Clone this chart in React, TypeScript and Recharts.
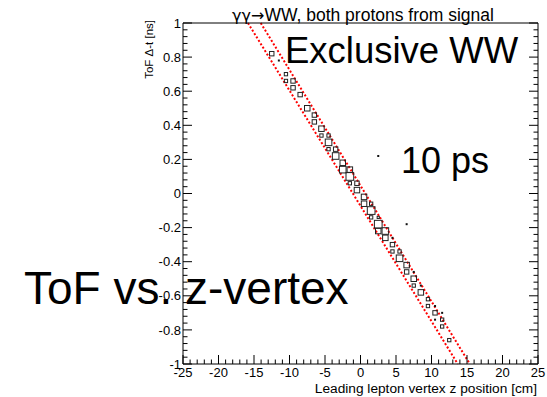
import React from 'react';
import { ScatterChart, Scatter, XAxis, YAxis, ReferenceLine } from 'recharts';

const W = 547;
const H = 397;
const FONT = '"Liberation Sans", Arial, Helvetica, sans-serif';

// Box (TH2 "BOX") cells: z position [cm], ToF delta-t [ns], cell content
const boxZ = [
  -12.5, -11.5, -10.5, -10.5, -9.5, -9.5, -8.5, -7.5, -6.5, -6.5,
  -5.5, -5.5, -4.5, -4.5, -4.5, -3.5, -3.5, -2.5, -2.5, -1.5,
  -1.5, -1.5, -0.5, -0.5, 0.5, 0.5, 1.5, 1.5, 1.5, 2.5,
  2.5, 2.5, 3.5, 3.5, 4.5, 4.5, 4.5, 5.5, 5.5, 6.5,
  6.5, 7.5, 7.5, 7.5, 8.5, 8.5, 9.5, 9.5, 10.5, 10.5,
  11.5, 10.5, 11.5, 11.5, 12.5, 2.5, 6.5,
];
const boxT = [
  0.82, 0.78, 0.70, 0.66, 0.66, 0.62, 0.58, 0.50, 0.46, 0.42,
  0.38, 0.34, 0.34, 0.30, 0.26, 0.26, 0.22, 0.18, 0.14, 0.14,
  0.10, 0.06, 0.06, 0.02, -0.02, -0.06, -0.06, -0.10, -0.14, -0.14,
  -0.18, -0.22, -0.22, -0.26, -0.26, -0.30, -0.34, -0.34, -0.38, -0.42,
  -0.46, -0.46, -0.50, -0.54, -0.54, -0.58, -0.62, -0.66, -0.66, -0.70,
  -0.70, -0.74, -0.74, -0.78, -0.86, 0.22, -0.18,
];
const boxN = [
  4, 1, 3, 3, 4, 4, 4, 5, 4, 4,
  5, 3, 3, 6, 3, 4, 6, 5, 6, 5,
  7, 3, 4, 5, 5, 5, 3, 7, 3, 2,
  7, 5, 6, 5, 1, 4, 3, 3, 6, 5,
  4, 1, 5, 3, 1, 5, 3, 3, 1, 4,
  1, 1, 3, 3, 3, 1, 1,
];

// Acceptance band (red dotted lines): [z, t] end points
const bandLowZ = [-15.85, 13.7];
const bandHighZ = [-14.05, 15.4];
const bandT = [1, -1];

const xMajorTicks = [-25, -20, -15, -10, -5, 0, 5, 10, 15, 20, 25];
const yMajorTicks = [-1, -0.8, -0.6, -0.4, -0.2, 0, 0.2, 0.4, 0.6, 0.8, 1];
const xMinorPerMajor = 5;
const yMinorPerMajor = 5;

const titleSymbols = '\u03b3\u03b3\u2192';
const titleRest = 'WW, both protons from signal';
const xTitle = 'Leading lepton vertex z position [cm]';
const yTitle = 'ToF \u0394-t [ns]';

const data = boxZ.map((z, i) => ({ x: z, y: boxT[i], w: boxN[i] }));

function subdivide(majors: number[], n: number): number[] {
  const out: number[] = [];
  for (let i = 0; i < majors.length - 1; i++) {
    const a = majors[i];
    const b = majors[i + 1];
    for (let k = 0; k < n; k++) out.push(Math.round((a + ((b - a) * k) / n) * 1e6) / 1e6);
  }
  out.push(majors[majors.length - 1]);
  return out;
}

const xTicks = subdivide(xMajorTicks, xMinorPerMajor);
const yTicks = subdivide(yMajorTicks, yMinorPerMajor);

const isMajor = (v: number, majors: number[]) => majors.some((m) => Math.abs(m - v) < 1e-6);
const MAJ = 9;
const MIN = 4.5;

const fmt = (v: number) => {
  const s = Number(v.toFixed(2)).toString();
  return s === '-0' ? '0' : s;
};

const BottomTick = (p: any) => {
  const v = p.payload.value;
  const major = isMajor(v, xMajorTicks);
  const len = major ? MAJ : MIN;
  return (
    <g>
      <line x1={p.x} x2={p.x} y1={p.y} y2={p.y - len} stroke="#000" strokeWidth={1} />
      {major && (
        <text x={p.x} y={p.y + 13.3} textAnchor="middle" fontSize={13} fontFamily={FONT} fill="#000">
          {fmt(v)}
        </text>
      )}
    </g>
  );
};

const TopTick = (p: any) => {
  const v = p.payload.value;
  const len = isMajor(v, xMajorTicks) ? MAJ : MIN;
  return <line x1={p.x} x2={p.x} y1={p.y} y2={p.y + len} stroke="#000" strokeWidth={1} />;
};

const LeftTick = (p: any) => {
  const v = p.payload.value;
  const major = isMajor(v, yMajorTicks);
  const len = major ? MAJ : MIN;
  return (
    <g>
      <line x1={p.x} x2={p.x + len} y1={p.y} y2={p.y} stroke="#000" strokeWidth={1} />
      {major && (
        <text x={p.x - 2} y={p.y + 4.6} textAnchor="end" fontSize={13} fontFamily={FONT} fill="#000">
          {fmt(v)}
        </text>
      )}
    </g>
  );
};

const RightTick = (p: any) => {
  const v = p.payload.value;
  const len = isMajor(v, yMajorTicks) ? MAJ : MIN;
  return <line x1={p.x} x2={p.x - len} y1={p.y} y2={p.y} stroke="#000" strokeWidth={1} />;
};

const BoxShape = (p: any) => {
  const w = (p.payload && p.payload.w) ?? p.w ?? 1;
  const cx = p.cx;
  const cy = p.cy;
  if (cx == null || cy == null) return null;
  if (w <= 1) {
    return <rect x={cx - 1} y={cy - 1} width={2} height={2} fill="#111" />;
  }
  const s = w * 1.1;
  return (
    <rect x={cx - s / 2} y={cy - s / 2} width={s} height={s} fill="none" stroke="#222" strokeWidth={1} />
  );
};

export default function App() {
  return (
    <div style={{ position: 'relative', width: W, height: H, background: '#fff' }}>
      <style>{'body{margin:0;background:#fff}'}</style>
      <ScatterChart width={W} height={H} margin={{ top: 22, right: 8, bottom: 32, left: 182 }}>
        <XAxis
          xAxisId="b"
          type="number"
          dataKey="x"
          orientation="bottom"
          domain={[-25, 25]}
          allowDataOverflow
          ticks={xTicks}
          interval={0}
          height={1}
          tickSize={0}
          tickMargin={0}
          tickLine={false}
          axisLine={{ stroke: '#000', strokeWidth: 1 }}
          tick={(p: any) => <BottomTick {...p} />}
        />
        <XAxis
          xAxisId="t"
          type="number"
          orientation="top"
          domain={[-25, 25]}
          allowDataOverflow
          ticks={xTicks}
          interval={0}
          height={1}
          tickSize={0}
          tickMargin={0}
          tickLine={false}
          axisLine={{ stroke: '#000', strokeWidth: 1 }}
          tick={(p: any) => <TopTick {...p} />}
        />
        <YAxis
          yAxisId="l"
          type="number"
          dataKey="y"
          orientation="left"
          domain={[-1, 1]}
          allowDataOverflow
          ticks={yTicks}
          interval={0}
          width={1}
          tickSize={0}
          tickMargin={0}
          tickLine={false}
          axisLine={{ stroke: '#000', strokeWidth: 1 }}
          tick={(p: any) => <LeftTick {...p} />}
        />
        <YAxis
          yAxisId="r"
          type="number"
          orientation="right"
          domain={[-1, 1]}
          allowDataOverflow
          ticks={yTicks}
          interval={0}
          width={1}
          tickSize={0}
          tickMargin={0}
          tickLine={false}
          axisLine={{ stroke: '#000', strokeWidth: 1 }}
          tick={(p: any) => <RightTick {...p} />}
        />
        <ReferenceLine
          xAxisId="b"
          yAxisId="l"
          segment={[
            { x: bandLowZ[0], y: bandT[0] },
            { x: bandLowZ[1], y: bandT[1] },
          ]}
          stroke="#ff0000"
          strokeWidth={2}
          strokeDasharray="2 2"
          ifOverflow="visible"
        />
        <ReferenceLine
          xAxisId="b"
          yAxisId="l"
          segment={[
            { x: bandHighZ[0], y: bandT[0] },
            { x: bandHighZ[1], y: bandT[1] },
          ]}
          stroke="#ff0000"
          strokeWidth={2}
          strokeDasharray="2 2"
          ifOverflow="visible"
        />
        <Scatter
          xAxisId="b"
          yAxisId="l"
          data={data}
          isAnimationActive={false}
          shape={(p: any) => <BoxShape {...p} />}
        />
      </ScatterChart>
      <svg
        width={W}
        height={H}
        style={{ position: 'absolute', left: 0, top: 0, pointerEvents: 'none' }}
      >
        <text x={363} y={20.7} textAnchor="middle" fontSize={17.5} fontFamily={FONT} fill="#000">
          <tspan fontFamily='"DejaVu Sans", sans-serif' fontSize={16}>{titleSymbols}</tspan>
          <tspan>{titleRest}</tspan>
        </text>
        <text x={537} y={393} textAnchor="end" fontSize={13.7} fontFamily={FONT} fill="#000">
          {xTitle}
        </text>
        <text
          x={152.5}
          y={20}
          textAnchor="end"
          fontSize={11.5}
          fontFamily={FONT}
          fill="#000"
          transform="rotate(-90 152.5 20)"
        >
          {yTitle}
        </text>
        <text x={285} y={63} fontSize={36.5} fontFamily={FONT} fill="#000">
          Exclusive WW
        </text>
        <text x={401} y={173.3} fontSize={36} fontFamily={FONT} fill="#000">
          10 ps
        </text>
        <text x={24} y={304.3} fontSize={46} fontFamily={FONT} fill="#000">
          ToF vs. z-vertex
        </text>
      </svg>
    </div>
  );
}
